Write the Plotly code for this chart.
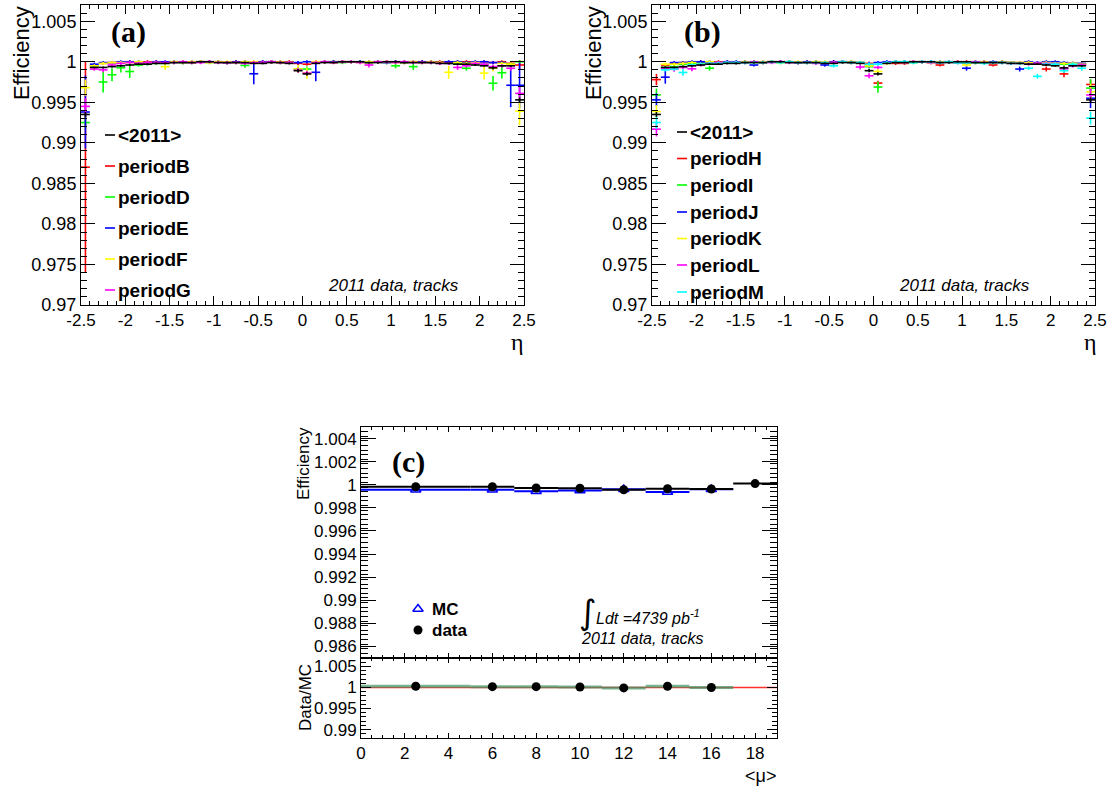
import plotly.graph_objects as go

W, H = 1113, 790

# ---------------- data ----------------
ETA = [-2.45, -2.35, -2.25, -2.15, -2.05, -1.95, -1.85, -1.75, -1.65, -1.55,
       -1.45, -1.35, -1.25, -1.15, -1.05, -0.95, -0.85, -0.75, -0.65, -0.55,
       -0.45, -0.35, -0.25, -0.15, -0.05, 0.05, 0.15, 0.25, 0.35, 0.45,
       0.55, 0.65, 0.75, 0.85, 0.95, 1.05, 1.15, 1.25, 1.35, 1.45,
       1.55, 1.65, 1.75, 1.85, 1.95, 2.05, 2.15, 2.25, 2.35, 2.45]
ETA_HALF_BIN = 0.05

AVG_2011 = [0.9935, 0.9993, 0.9993, 0.9994, 0.9995, 0.9996, 0.9997, 0.9997, 0.9998, 0.9998,
            0.9999, 0.9999, 0.9999, 1.0000, 1.0000, 0.9999, 0.9999, 0.9999, 0.9999, 0.9998,
            0.9998, 0.9999, 0.9999, 0.9998, 0.9989, 0.9985, 0.9998, 0.9999, 0.9999, 1.0000,
            1.0000, 1.0000, 0.9999, 0.9999, 1.0000, 1.0000, 0.9999, 0.9999, 0.9999, 0.9999,
            0.9998, 0.9998, 0.9997, 0.9997, 0.9996, 0.9995, 0.99925, 0.9995, 0.9995, 0.9953]
AVG_2011_ERR = [0.0003, 0.0001, 0.0001, 0.0001, 0.0001, 0.0001, 0.0001, 0.0001, 0.0001, 0.0001,
                0.0001, 0.0001, 0.0001, 0.0001, 0.0001, 0.0001, 0.0001, 0.0001, 0.0001, 0.0001,
                0.0001, 0.0001, 0.0001, 0.0001, 0.0002, 0.0002, 0.0001, 0.0001, 0.0001, 0.0001,
                0.0001, 0.0001, 0.0001, 0.0001, 0.0001, 0.0001, 0.0001, 0.0001, 0.0001, 0.0001,
                0.0001, 0.0001, 0.0001, 0.0001, 0.0001, 0.0001, 0.0002, 0.0001, 0.0001, 0.0003]

# panel (a)
PERIOD_B = [0.9870, 0.9995, 0.9998, 0.9999, 0.9999, 1.0000, 0.9999, 1.0000, 1.0000, 0.9999,
            1.0000, 1.0000, 0.9999, 1.0000, 1.0000, 1.0000, 0.9999, 1.0000, 1.0000, 0.9999,
            1.0000, 1.0000, 0.9999, 1.0000, 0.9998, 0.9997, 1.0000, 1.0000, 1.0000, 1.0000,
            1.0000, 1.0000, 0.9999, 1.0000, 1.0000, 1.0000, 0.9999, 1.0000, 1.0000, 1.0000,
            1.0000, 0.9999, 1.0000, 1.0000, 0.9999, 1.0000, 0.9999, 1.0000, 0.9998, 0.9996]
PERIOD_B_ERR = [0.0130, 0.0002, 0.0002, 0.0002, 0.0002, 0.0002, 0.0002, 0.0002, 0.0002, 0.0002,
                0.0002, 0.0002, 0.0002, 0.0002, 0.0002, 0.0002, 0.0002, 0.0002, 0.0002, 0.0002,
                0.0002, 0.0002, 0.0002, 0.0002, 0.0002, 0.0002, 0.0002, 0.0002, 0.0002, 0.0002,
                0.0002, 0.0002, 0.0002, 0.0002, 0.0002, 0.0002, 0.0002, 0.0002, 0.0002, 0.0002,
                0.0002, 0.0002, 0.0002, 0.0002, 0.0002, 0.0002, 0.0002, 0.0002, 0.0002, 0.0006]

PERIOD_D = [0.9925, 0.9995, 0.9975, 0.9984, 0.99926, 0.9988, 0.9996, 0.9997, 0.9998, 0.9998,
            0.9999, 0.9999, 0.9999, 1.0000, 0.9999, 1.0000, 0.9999, 0.9999, 0.99955, 0.9999,
            0.9999, 1.0000, 0.9999, 0.9999, 0.9991, 0.9991, 0.9999, 1.0000, 1.0000, 0.9999,
            1.0000, 1.0000, 0.9999, 1.0000, 0.9999, 0.9995, 0.9999, 0.9994, 0.9999, 0.9999,
            0.9999, 0.9998, 0.9998, 0.9992, 0.9998, 0.9997, 0.99735, 0.99865, 0.9997, 1.0000]
PERIOD_D_ERR = [0.0008, 0.0002, 0.0013, 0.0008, 0.0006, 0.0008, 0.0002, 0.0002, 0.0002, 0.0002,
                0.0002, 0.0002, 0.0002, 0.0002, 0.0002, 0.0002, 0.0002, 0.0002, 0.0003, 0.0002,
                0.0002, 0.0002, 0.0002, 0.0002, 0.0003, 0.0003, 0.0002, 0.0002, 0.0002, 0.0002,
                0.0002, 0.0002, 0.0002, 0.0002, 0.0002, 0.0003, 0.0002, 0.0004, 0.0002, 0.0002,
                0.0002, 0.0002, 0.0002, 0.0003, 0.0002, 0.0002, 0.0009, 0.0007, 0.0002, 0.0002]

PERIOD_E = [0.9938, 0.9997, 0.9999, 0.9999, 1.0000, 1.0000, 1.0000, 0.9999, 1.0000, 1.0000,
            1.0000, 0.9999, 1.0000, 1.0000, 1.0000, 1.0000, 0.9999, 1.0000, 1.0000, 0.99852,
            1.0000, 1.0000, 1.0000, 0.9999, 0.9999, 1.0000, 0.9987, 1.0000, 1.0000, 1.0000,
            1.0000, 1.0000, 1.0000, 1.0000, 0.9999, 1.0000, 1.0000, 1.0000, 1.0000, 1.0000,
            0.9999, 1.0000, 1.0000, 0.9999, 1.0000, 1.0000, 0.9999, 0.9999, 0.9971, 0.9971]
PERIOD_E_ERR = [0.0045, 0.0002, 0.0002, 0.0002, 0.0002, 0.0002, 0.0002, 0.0002, 0.0002, 0.0002,
                0.0002, 0.0002, 0.0002, 0.0002, 0.0002, 0.0002, 0.0002, 0.0002, 0.0002, 0.0013,
                0.0002, 0.0002, 0.0002, 0.0002, 0.0002, 0.0002, 0.0011, 0.0002, 0.0002, 0.0002,
                0.0002, 0.0002, 0.0002, 0.0002, 0.0002, 0.0002, 0.0002, 0.0002, 0.0002, 0.0002,
                0.0002, 0.0002, 0.0002, 0.0002, 0.0002, 0.0002, 0.0002, 0.0002, 0.0027, 0.0028]

PERIOD_F = [0.9968, 0.9995, 0.9998, 0.9999, 0.9999, 0.9999, 1.0000, 0.9999, 0.9999, 0.9994,
            1.0000, 0.9999, 1.0000, 1.0000, 0.9999, 1.0000, 1.0000, 0.9999, 1.0000, 1.0000,
            0.9999, 1.0000, 1.0000, 0.9999, 0.9991, 0.9986, 1.0000, 1.0000, 0.9999, 1.0000,
            1.0000, 0.9999, 1.0000, 1.0000, 1.0000, 0.9999, 1.0000, 1.0000, 0.9999, 1.0000,
            0.9999, 0.9987, 0.9999, 0.9998, 0.9999, 0.9986, 0.9992, 0.9998, 0.9997, 0.9939]
PERIOD_F_ERR = [0.0010, 0.0002, 0.0002, 0.0002, 0.0002, 0.0002, 0.0002, 0.0002, 0.0002, 0.0004,
                0.0002, 0.0002, 0.0002, 0.0002, 0.0002, 0.0002, 0.0002, 0.0002, 0.0002, 0.0002,
                0.0002, 0.0002, 0.0002, 0.0002, 0.0005, 0.0007, 0.0002, 0.0002, 0.0002, 0.0002,
                0.0002, 0.0002, 0.0002, 0.0002, 0.0002, 0.0002, 0.0002, 0.0002, 0.0002, 0.0002,
                0.0002, 0.0008, 0.0002, 0.0002, 0.0002, 0.0008, 0.0004, 0.0002, 0.0002, 0.0017]

PERIOD_G = [0.9945, 0.9991, 0.9990, 0.9996, 0.9998, 0.9999, 0.9998, 0.9999, 0.9999, 0.9999,
            0.9999, 1.0000, 0.9999, 0.9999, 1.0000, 0.9999, 0.9999, 0.9999, 0.9998, 0.9999,
            0.9999, 1.0000, 0.9999, 0.9999, 0.99895, 0.9986, 0.9999, 1.0000, 0.9999, 1.0000,
            1.0000, 0.9999, 0.9996, 1.0000, 1.0000, 0.9999, 1.0000, 0.9999, 0.9999, 0.9999,
            0.9998, 0.9998, 0.9993, 0.9995, 0.9998, 0.9997, 0.9994, 0.9995, 0.9992, 0.9961]
PERIOD_G_ERR = [0.0010, 0.0002, 0.0003, 0.0002, 0.0002, 0.0002, 0.0002, 0.0002, 0.0002, 0.0002,
                0.0002, 0.0002, 0.0002, 0.0002, 0.0002, 0.0002, 0.0002, 0.0002, 0.0002, 0.0002,
                0.0002, 0.0002, 0.0002, 0.0002, 0.0003, 0.0003, 0.0002, 0.0002, 0.0002, 0.0002,
                0.0002, 0.0002, 0.0003, 0.0002, 0.0002, 0.0002, 0.0002, 0.0002, 0.0002, 0.0002,
                0.0002, 0.0002, 0.0003, 0.0002, 0.0002, 0.0002, 0.0002, 0.0002, 0.0003, 0.0008]

# panel (b)
PERIOD_H = [0.9978, 0.9996, 0.9998, 0.9999, 0.9999, 1.0000, 0.9999, 1.0000, 1.0000, 0.9999,
            1.0000, 1.0000, 0.9999, 1.0000, 1.0000, 1.0000, 0.9999, 1.0000, 1.0000, 0.9999,
            1.0000, 1.0000, 0.9999, 0.9999, 0.9998, 0.99737, 0.9999, 0.9998, 0.9998, 1.0000,
            1.0000, 0.9999, 0.9996, 1.0000, 1.0000, 1.0000, 0.9999, 1.0000, 0.9996, 1.0000,
            0.9999, 0.9999, 0.9998, 0.9998, 0.9991, 0.9998, 0.9985, 0.9998, 0.9997, 0.9972]
PERIOD_H_ERR = [0.0007, 0.0002, 0.0002, 0.0002, 0.0002, 0.0002, 0.0002, 0.0002, 0.0002, 0.0002,
                0.0002, 0.0002, 0.0002, 0.0002, 0.0002, 0.0002, 0.0002, 0.0002, 0.0002, 0.0002,
                0.0002, 0.0002, 0.0002, 0.0002, 0.0002, 0.0003, 0.0002, 0.0002, 0.0002, 0.0002,
                0.0002, 0.0002, 0.0002, 0.0002, 0.0002, 0.0002, 0.0002, 0.0002, 0.0002, 0.0002,
                0.0002, 0.0002, 0.0002, 0.0002, 0.0003, 0.0002, 0.0004, 0.0002, 0.0002, 0.0006]

PERIOD_I = [0.9959, 0.9993, 0.9994, 0.9997, 0.9998, 0.9998, 0.9992, 0.9998, 0.9999, 0.9999,
            0.9999, 1.0000, 0.9999, 1.0000, 0.9999, 1.0000, 0.9999, 0.9999, 0.9999, 0.9999,
            0.9999, 1.0000, 0.9999, 0.9999, 0.9994, 0.99688, 0.9999, 1.0000, 1.0000, 0.9999,
            1.0000, 1.0000, 0.9999, 1.0000, 0.9999, 0.9998, 0.9999, 0.9999, 0.9999, 0.9999,
            0.9999, 0.9998, 0.9998, 0.9998, 0.9998, 0.9997, 0.9997, 0.9996, 0.9997, 0.99675]
PERIOD_I_ERR = [0.0008, 0.0002, 0.0002, 0.0002, 0.0002, 0.0002, 0.0003, 0.0002, 0.0002, 0.0002,
                0.0002, 0.0002, 0.0002, 0.0002, 0.0002, 0.0002, 0.0002, 0.0002, 0.0002, 0.0002,
                0.0002, 0.0002, 0.0002, 0.0002, 0.0002, 0.0007, 0.0002, 0.0002, 0.0002, 0.0002,
                0.0002, 0.0002, 0.0002, 0.0002, 0.0002, 0.0002, 0.0002, 0.0002, 0.0002, 0.0002,
                0.0002, 0.0002, 0.0002, 0.0002, 0.0002, 0.0002, 0.0002, 0.0002, 0.0002, 0.0011]

PERIOD_J = [0.9953, 0.9981, 0.9999, 0.9999, 1.0000, 1.0000, 1.0000, 0.9999, 1.0000, 1.0000,
            1.0000, 0.9996, 1.0000, 1.0000, 1.0000, 1.0000, 0.9999, 1.0000, 1.0000, 0.9996,
            1.0000, 1.0000, 1.0000, 0.9999, 0.9996, 0.9999, 1.0000, 1.0000, 1.0000, 1.0000,
            1.0000, 1.0000, 1.0000, 1.0000, 0.9999, 0.9992, 1.0000, 1.0000, 1.0000, 1.0000,
            0.9999, 0.9991, 1.0000, 0.9999, 1.0000, 1.0000, 0.9999, 0.9998, 0.9998, 0.9955]
PERIOD_J_ERR = [0.0008, 0.0008, 0.0002, 0.0002, 0.0002, 0.0002, 0.0002, 0.0002, 0.0002, 0.0002,
                0.0002, 0.0002, 0.0002, 0.0002, 0.0002, 0.0002, 0.0002, 0.0002, 0.0002, 0.0002,
                0.0002, 0.0002, 0.0002, 0.0002, 0.0004, 0.0002, 0.0002, 0.0002, 0.0002, 0.0002,
                0.0002, 0.0002, 0.0002, 0.0002, 0.0002, 0.0003, 0.0002, 0.0002, 0.0002, 0.0002,
                0.0002, 0.0003, 0.0002, 0.0002, 0.0002, 0.0002, 0.0002, 0.0002, 0.0002, 0.0012]

PERIOD_K = [0.99386, 0.9997, 0.9997, 0.9998, 0.9999, 0.9997, 1.0000, 0.9999, 0.9999, 0.9999,
            1.0000, 0.9999, 1.0000, 1.0000, 0.9999, 1.0000, 1.0000, 0.9999, 1.0000, 1.0000,
            0.9999, 1.0000, 1.0000, 0.9999, 0.9995, 0.9988, 0.9998, 1.0000, 0.9999, 1.0000,
            1.0000, 0.9999, 1.0000, 1.0000, 1.0000, 0.9996, 1.0000, 1.0000, 0.9999, 1.0000,
            0.9999, 0.9999, 0.9999, 0.9998, 0.9999, 0.9998, 0.9998, 0.9998, 0.9997, 0.9963]
PERIOD_K_ERR = [0.0008, 0.0002, 0.0002, 0.0002, 0.0002, 0.0002, 0.0002, 0.0002, 0.0002, 0.0002,
                0.0002, 0.0002, 0.0002, 0.0002, 0.0002, 0.0002, 0.0002, 0.0002, 0.0002, 0.0002,
                0.0002, 0.0002, 0.0002, 0.0002, 0.0002, 0.0003, 0.0002, 0.0002, 0.0002, 0.0002,
                0.0002, 0.0002, 0.0002, 0.0002, 0.0002, 0.0002, 0.0002, 0.0002, 0.0002, 0.0002,
                0.0002, 0.0002, 0.0002, 0.0002, 0.0002, 0.0002, 0.0002, 0.0002, 0.0002, 0.0010]

PERIOD_L = [0.99169, 0.9992, 0.99907, 0.9993, 0.99913, 0.9996, 0.9998, 0.9999, 0.9999, 0.9999,
            0.9999, 1.0000, 0.9999, 0.9999, 1.0000, 0.9999, 0.9999, 0.9999, 0.9998, 0.9999,
            0.9999, 1.0000, 0.9999, 0.99935, 0.99827, 0.9993, 0.9999, 1.0000, 0.9999, 1.0000,
            1.0000, 0.9999, 0.9999, 1.0000, 1.0000, 0.9999, 1.0000, 0.9999, 0.9999, 0.9999,
            0.9998, 0.9998, 0.9997, 0.9998, 0.9998, 0.9997, 0.99913, 0.9995, 0.9996, 0.9959]
PERIOD_L_ERR = [0.0009, 0.0002, 0.0003, 0.0002, 0.0003, 0.0002, 0.0002, 0.0002, 0.0002, 0.0002,
                0.0002, 0.0002, 0.0002, 0.0002, 0.0002, 0.0002, 0.0002, 0.0002, 0.0002, 0.0002,
                0.0002, 0.0002, 0.0002, 0.0003, 0.0003, 0.0002, 0.0002, 0.0002, 0.0002, 0.0002,
                0.0002, 0.0002, 0.0002, 0.0002, 0.0002, 0.0002, 0.0002, 0.0002, 0.0002, 0.0002,
                0.0002, 0.0002, 0.0002, 0.0002, 0.0002, 0.0002, 0.0003, 0.0002, 0.0002, 0.0008]

PERIOD_M = [0.99251, 0.9990, 0.9991, 0.99868, 0.9996, 0.9997, 0.9998, 0.9998, 0.9999, 0.9999,
            0.9999, 0.9999, 0.9999, 1.0000, 0.9999, 1.0000, 0.9999, 0.9999, 0.9999, 0.9999,
            0.9995, 1.0000, 0.9999, 0.9999, 0.9997, 0.9997, 0.9999, 1.0000, 1.0000, 0.9999,
            1.0000, 1.0000, 0.9999, 1.0000, 0.9999, 0.9999, 0.9999, 0.9998, 0.9999, 0.9999,
            0.9998, 0.9998, 0.9992, 0.9982, 0.9997, 0.9997, 0.9989, 0.9997, 0.9992, 0.99305]
PERIOD_M_ERR = [0.0008, 0.0002, 0.0002, 0.0004, 0.0002, 0.0002, 0.0002, 0.0002, 0.0002, 0.0002,
                0.0002, 0.0002, 0.0002, 0.0002, 0.0002, 0.0002, 0.0002, 0.0002, 0.0002, 0.0002,
                0.0002, 0.0002, 0.0002, 0.0002, 0.0002, 0.0002, 0.0002, 0.0002, 0.0002, 0.0002,
                0.0002, 0.0002, 0.0002, 0.0002, 0.0002, 0.0002, 0.0002, 0.0002, 0.0002, 0.0002,
                0.0002, 0.0002, 0.0002, 0.0003, 0.0002, 0.0002, 0.0003, 0.0002, 0.0003, 0.0008]

# panel (c)
MU_DATA = [2.5, 6, 8, 10, 12, 14, 16, 18]
MU_DATA_HALF = [2.5, 1, 1, 1, 1, 1, 1, 1]
EFF_DATA = [0.99983, 0.99983, 0.99972, 0.99970, 0.99957, 0.99966, 0.99963, 1.00010]
EFF_DATA_ERR = [0.00003, 0.00003, 0.00003, 0.00003, 0.00003, 0.00003, 0.00003, 0.00005]
MU_MC = [2.5, 6, 8, 10, 12, 14, 16]
MU_MC_HALF = [2.5, 1, 1, 1, 1, 1, 1]
EFF_MC = [0.99957, 0.99957, 0.99943, 0.99950, 0.99960, 0.99937, 0.99960]
RATIO = [1.0003, 1.0002, 1.0002, 1.0001, 0.9999, 1.0003, 1.0000]

ETA_TICKS = [-2.5, -2, -1.5, -1, -0.5, 0, 0.5, 1, 1.5, 2, 2.5]
ETA_TICKTEXT = ["-2.5", "-2", "-1.5", "-1", "-0.5", "0", "0.5", "1", "1.5", "2", "2.5"]
EFF_TICKS = [0.97, 0.975, 0.98, 0.985, 0.99, 0.995, 1.0, 1.005]
EFF_TICKTEXT = ["0.97", "0.975", "0.98", "0.985", "0.99", "0.995", "1", "1.005"]
C_TICKS = [0.986, 0.988, 0.99, 0.992, 0.994, 0.996, 0.998, 1.0, 1.002, 1.004]
C_TICKTEXT = ["0.986", "0.988", "0.99", "0.992", "0.994", "0.996", "0.998", "1", "1.002", "1.004"]
R_TICKS = [0.99, 0.995, 1.0, 1.005]
R_TICKTEXT = ["0.99", "0.995", "1", "1.005"]
MU_TICKS = [0, 2, 4, 6, 8, 10, 12, 14, 16, 18]

LEG_A = ["<2011>", "periodB", "periodD", "periodE", "periodF", "periodG"]
LEG_B = ["<2011>", "periodH", "periodI", "periodJ", "periodK", "periodL", "periodM"]

RED, GREEN, BLUE, YELLOW, MAGENTA, CYAN = "#ff0000", "#00ff00", "#0000ff", "#ffff00", "#ff00ff", "#00ffff"

SANS = "Liberation Sans"

# ---------------- figure ----------------
fig = go.Figure()


def hist(y, err, color, xa, ya):
    fig.add_trace(go.Scatter(
        x=ETA, y=y, mode="markers", xaxis=xa, yaxis=ya, showlegend=False,
        marker=dict(size=1, color=color),
        error_x=dict(type="constant", value=ETA_HALF_BIN, color=color, thickness=1.6, width=0),
        error_y=dict(type="data", array=err, color=color, thickness=1.6, width=0),
        hoverinfo="skip"))


for vals, errs, col in [(PERIOD_B, PERIOD_B_ERR, RED), (PERIOD_D, PERIOD_D_ERR, GREEN),
                        (PERIOD_E, PERIOD_E_ERR, BLUE), (PERIOD_F, PERIOD_F_ERR, YELLOW),
                        (PERIOD_G, PERIOD_G_ERR, MAGENTA)]:
    hist(vals, errs, col, "x", "y")
hist(AVG_2011, AVG_2011_ERR, "black", "x", "y")

for vals, errs, col in [(PERIOD_H, PERIOD_H_ERR, RED), (PERIOD_I, PERIOD_I_ERR, GREEN),
                        (PERIOD_J, PERIOD_J_ERR, BLUE), (PERIOD_K, PERIOD_K_ERR, YELLOW),
                        (PERIOD_L, PERIOD_L_ERR, MAGENTA), (PERIOD_M, PERIOD_M_ERR, CYAN)]:
    hist(vals, errs, col, "x2", "y2")
hist(AVG_2011, AVG_2011_ERR, "black", "x2", "y2")

# panel (c) top
fig.add_trace(go.Scatter(
    x=MU_MC, y=EFF_MC, mode="markers", xaxis="x3", yaxis="y3", showlegend=False,
    marker=dict(symbol="triangle-up-open", size=9, color=BLUE, line=dict(width=1.5, color=BLUE)),
    error_x=dict(type="data", array=MU_MC_HALF, color=BLUE, thickness=2, width=0)))
fig.add_trace(go.Scatter(
    x=MU_DATA, y=EFF_DATA, mode="markers", xaxis="x3", yaxis="y3", showlegend=False,
    marker=dict(symbol="circle", size=9, color="black"),
    error_x=dict(type="data", array=MU_DATA_HALF, color="black", thickness=2, width=0),
    error_y=dict(type="data", array=EFF_DATA_ERR, color="black", thickness=1.5, width=0)))

# panel (c) ratio
fig.add_trace(go.Scatter(
    x=[0, 19], y=[1, 1], mode="lines", xaxis="x4", yaxis="y4", showlegend=False,
    line=dict(color="#ff3030", width=1.5)))
fig.add_trace(go.Scatter(
    x=MU_MC, y=RATIO, mode="markers", xaxis="x4", yaxis="y4", showlegend=False,
    marker=dict(symbol="circle", size=9, color="black"),
    error_x=dict(type="data", array=MU_MC_HALF, color="rgba(60,150,100,0.7)", thickness=3, width=0)))

# legend symbols on a pixel overlay
leg_a_y = [135, 166, 197, 228, 259, 290]
leg_a_col = ["black", RED, GREEN, BLUE, YELLOW, MAGENTA]
for yy, col in zip(leg_a_y, leg_a_col):
    fig.add_trace(go.Scatter(x=[105, 115], y=[yy, yy], mode="lines", xaxis="x5", yaxis="y5",
                             line=dict(color=col, width=1.6), showlegend=False, hoverinfo="skip"))
leg_b_y = [132, 158.5, 185, 212, 238.5, 265, 292]
leg_b_col = ["black", RED, GREEN, BLUE, YELLOW, MAGENTA, CYAN]
for yy, col in zip(leg_b_y, leg_b_col):
    fig.add_trace(go.Scatter(x=[677, 687], y=[yy, yy], mode="lines", xaxis="x5", yaxis="y5",
                             line=dict(color=col, width=1.6), showlegend=False, hoverinfo="skip"))
fig.add_trace(go.Scatter(x=[418], y=[609], mode="markers", xaxis="x5", yaxis="y5", showlegend=False,
                         marker=dict(symbol="triangle-up-open", size=9, color=BLUE, line=dict(width=1.5, color=BLUE))))
fig.add_trace(go.Scatter(x=[418], y=[630], mode="markers", xaxis="x5", yaxis="y5", showlegend=False,
                         marker=dict(symbol="circle", size=9, color="black")))


def px_x(p):
    return p / W


def px_y(p):
    return 1 - p / H


def axis_common(fs=18, **kw):
    d = dict(showline=True, linecolor="black", linewidth=1, mirror="allticks", ticks="inside",
             tickcolor="black", tickwidth=1, showgrid=False, zeroline=False, automargin=False,
             tickfont=dict(family=SANS, size=fs, color="black"))
    d.update(kw)
    return d


eta_axis = dict(range=[-2.5, 2.5], tickvals=ETA_TICKS, ticktext=ETA_TICKTEXT, ticklen=9,
                minor=dict(dtick=0.1, tick0=-2.5, ticklen=4, ticks="inside", tickcolor="black"))
eff_axis = dict(range=[0.97, 1.007], tickvals=EFF_TICKS, ticktext=EFF_TICKTEXT, ticklen=14,
                minor=dict(dtick=0.001, tick0=0.97, ticklen=6, ticks="inside", tickcolor="black"))

fig.update_layout(
    width=W, height=H, margin=dict(l=0, r=0, t=0, b=0, pad=0, autoexpand=False),
    paper_bgcolor="white", plot_bgcolor="rgba(0,0,0,0)", showlegend=False,
    xaxis=axis_common(17, domain=[px_x(81), px_x(524)], anchor="y", **eta_axis),
    yaxis=axis_common(18, domain=[px_y(305), px_y(5)], anchor="x", **eff_axis),
    xaxis2=axis_common(17, domain=[px_x(652), px_x(1095)], anchor="y2", **eta_axis),
    yaxis2=axis_common(18, domain=[px_y(305), px_y(5)], anchor="x2", **eff_axis),
    xaxis3=axis_common(17, domain=[px_x(361), px_x(777)], anchor="y3", range=[0, 19],
                       tickvals=MU_TICKS, showticklabels=False, ticklen=5,
                       minor=dict(dtick=0.5, tick0=0, ticklen=3, ticks="inside", tickcolor="black")),
    yaxis3=axis_common(17, domain=[px_y(658), px_y(427)], anchor="x3", range=[0.985, 1.005],
                       tickvals=C_TICKS, ticktext=C_TICKTEXT, ticklen=15,
                       minor=dict(dtick=0.0004, tick0=0.985, ticklen=7, ticks="inside", tickcolor="black")),
    xaxis4=axis_common(17, domain=[px_x(361), px_x(777)], anchor="y4", range=[0, 19],
                       tickvals=MU_TICKS, ticktext=[str(v) for v in MU_TICKS], ticklen=5,
                       minor=dict(dtick=0.5, tick0=0, ticklen=3, ticks="inside", tickcolor="black")),
    yaxis4=axis_common(17, domain=[px_y(738), px_y(658)], anchor="x4", range=[0.988, 1.007],
                       tickvals=R_TICKS, ticktext=R_TICKTEXT, ticklen=10,
                       minor=dict(dtick=0.001, tick0=0.988, ticklen=5, ticks="inside", tickcolor="black")),
    xaxis5=dict(domain=[0, 1], range=[0, W], visible=False, fixedrange=True, anchor="y5", automargin=False),
    yaxis5=dict(domain=[0, 1], range=[H, 0], visible=False, fixedrange=True, anchor="x5", automargin=False),
)


def note(x, y, text, size, xanchor="left", yanchor="middle", family=SANS, angle=0):
    fig.add_annotation(x=x, y=y, xref="x5", yref="y5", text=text, showarrow=False,
                       xanchor=xanchor, yanchor=yanchor, textangle=angle,
                       font=dict(family=family, size=size, color="black"), borderpad=0)


# panel labels
note(128, 32, "<b>(a)</b>", 30, xanchor="center", family="Liberation Serif")
note(702, 32, "<b>(b)</b>", 30, xanchor="center", family="Liberation Serif")
note(408, 462, "<b>(c)</b>", 30, xanchor="center", family="Liberation Serif")

# legends
for yy, lab in zip(leg_a_y, LEG_A):
    note(117, yy, "<b>" + lab.replace("<", "&lt;").replace(">", "&gt;") + "</b>", 19)
for yy, lab in zip(leg_b_y, LEG_B):
    note(689, yy, "<b>" + lab.replace("<", "&lt;").replace(">", "&gt;") + "</b>", 19)
note(431, 609, "<b>MC</b>", 17)
note(431, 630, "<b>data</b>", 17)

# info text
note(327, 285, "<i>2011 data, tracks</i>", 17)
note(898, 285, "<i>2011 data, tracks</i>", 17)
note(578, 612, "∫", 34, family="DejaVu Sans")
note(595, 617, "<i>Ldt =4739 pb<sup>-1</sup></i>", 16)
note(580, 638, "<i>2011 data, tracks</i>", 16)

# axis titles
note(21, 53, "Efficiency", 22, xanchor="center", angle=-90)
note(593, 53, "Efficiency", 22, xanchor="center", angle=-90)
note(517, 342, "η", 24, xanchor="center", family="Liberation Serif")
note(1090, 342, "η", 24, xanchor="center", family="Liberation Serif")
note(303, 464, "Efficiency", 17, xanchor="center", angle=-90)
note(305, 698, "Data/MC", 17, xanchor="center", angle=-90)
note(777, 776, "&lt;μ&gt;", 18, xanchor="right")

fig.write_html("out.html")
